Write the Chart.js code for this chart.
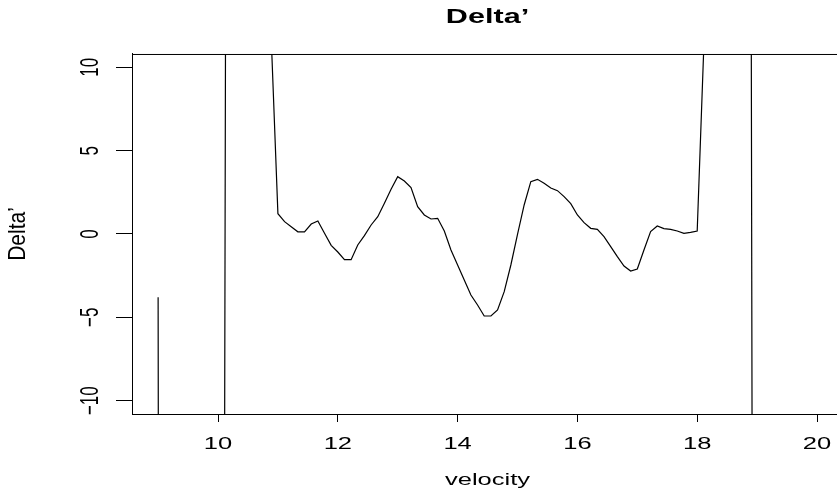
<!DOCTYPE html>
<html lang="en">
<head>
    <meta charset="UTF-8">
    <title>Delta'</title>
    <script src="https://cdn.jsdelivr.net/npm/chart.js"></script>
    <style>
        body {
            margin: 0;
            background-color: #ffffff;
            overflow: hidden;
        }
        canvas {
            display: block;
        }
    </style>
</head>
<body>
    <canvas id="deltaChart" width="975" height="495"></canvas>

    <script>
        // velocity grid (100 points, 9 .. 20)
        const velocity = [
            9.000, 9.111, 9.222, 9.333, 9.444, 9.556, 9.667, 9.778, 9.889,
            10.000, 10.111, 10.222, 10.333, 10.444, 10.556, 10.667, 10.778, 10.889,
            11.000, 11.111, 11.222, 11.333, 11.444, 11.556, 11.667, 11.778, 11.889,
            12.000, 12.111, 12.222, 12.333, 12.444, 12.556, 12.667, 12.778, 12.889,
            13.000, 13.111, 13.222, 13.333, 13.444, 13.556, 13.667, 13.778, 13.889,
            14.000, 14.111, 14.222, 14.333, 14.444, 14.556, 14.667, 14.778, 14.889,
            15.000, 15.111, 15.222, 15.333, 15.444, 15.556, 15.667, 15.778, 15.889,
            16.000, 16.111, 16.222, 16.333, 16.444, 16.556, 16.667, 16.778, 16.889,
            17.000, 17.111, 17.222, 17.333, 17.444, 17.556, 17.667, 17.778, 17.889,
            18.000, 18.111, 18.222, 18.333, 18.444, 18.556, 18.667, 18.778, 18.889,
            19.000, 19.111, 19.222, 19.333, 19.444, 19.556, 19.667, 19.778, 19.889,
            20.000
        ];

        // Delta' values (off-scale ones are only estimates, they get clipped)
        const deltaPrime = [
            -3.8, -260, -150, -105, -80, -62, -48, -36, -26,
            -18, -11.2, 170, 95, 60, 38, 25, 17, 11.7,
            1.22, 0.74, 0.44, 0.13, 0.13, 0.6, 0.78, 0.04, -0.68,
            -1.08, -1.54, -1.54, -0.66, -0.1, 0.54, 1.04, 1.84, 2.68,
            3.44, 3.18, 2.78, 1.64, 1.14, 0.9, 0.94, 0.18, -0.96,
            -1.86, -2.76, -3.66, -4.26, -4.92, -4.92, -4.56, -3.46, -1.86,
            -0.02, 1.74, 3.14, 3.28, 3.04, 2.76, 2.6, 2.24, 1.82,
            1.14, 0.68, 0.34, 0.28, -0.16, -0.76, -1.36, -1.92, -2.22,
            -2.1, -0.96, 0.14, 0.48, 0.32, 0.28, 0.18, 0.04, 0.1,
            0.18, 11.3, 14, 17, 20, 24, 28, 32, 36,
            -160, -110, -80, -62, -50, -42, -36, -31, -27,
            -24
        ];

        const xTicks = [10, 12, 14, 16, 18, 20];
        const yTicks = [-10, -5, 0, 5, 10];
        const yTickLabels = ['\u221210', '\u22125', '0', '5', '10'];

        const xRange = [8.564, 20.434];
        const yRange = [-10.8, 10.8];

        const SX = 1.5;       // the reference text is stretched sideways
        const SX_YLAB = 1.15; // ...the y title less so
        const FONT = 'Liberation Sans, Arial, sans-serif';

        const canvas = document.getElementById('deltaChart');
        const ctx = canvas.getContext('2d');

        // widen every label in screen x, around its anchor point
        const origFillText = CanvasRenderingContext2D.prototype.fillText;
        ctx.fillText = function (text, x, y, maxWidth) {
            const sx = this.font.indexOf('21px') >= 0 ? SX_YLAB : SX;
            const m = this.getTransform();
            const p = m.transformPoint(new DOMPoint(x, y));
            this.save();
            this.setTransform(new DOMMatrix().translate(p.x, p.y).scale(sx, 1).translate(-p.x, -p.y).multiply(m));
            origFillText.call(this, text, x, y);
            this.restore();
        };

        // closes the plot box (top side)
        const boxPlugin = {
            id: 'box',
            afterDraw(chart) {
                const a = chart.chartArea;
                const c = chart.ctx;
                c.save();
                c.strokeStyle = '#000';
                c.lineWidth = 1;
                c.strokeRect(a.left + 0.5, a.top + 0.5, a.right - a.left, a.bottom - a.top);
                c.restore();
            }
        };

        new Chart(ctx, {
            type: 'line',
            data: {
                datasets: [{
                    label: 'Delta\u2019',
                    data: velocity.map((v, i) => ({ x: v, y: deltaPrime[i] })),
                    borderColor: '#000',
                    borderWidth: 1.2,
                    pointRadius: 0,
                    fill: false,
                    tension: 0
                }]
            },
            options: {
                responsive: false,
                animation: false,
                layout: { padding: { left: 0, right: 132, top: 0, bottom: 0 } },
                plugins: {
                    legend: { display: false },
                    tooltip: { enabled: false },
                    title: {
                        display: true,
                        fullSize: false,
                        text: 'Delta\u2019',
                        color: '#000',
                        font: { family: FONT, size: 20.4, weight: 'bold' },
                        padding: { top: 5, bottom: 24.5 }
                    }
                },
                scales: {
                    x: {
                        type: 'linear',
                        min: xRange[0],
                        max: xRange[1],
                        afterFit(scale) { scale.height = 81; },
                        afterBuildTicks(scale) { scale.ticks = xTicks.map(v => ({ value: v })); },
                        border: { display: true, color: '#000', width: 1 },
                        grid: { drawOnChartArea: false, drawTicks: true, tickLength: 8, color: '#000' },
                        ticks: {
                            color: '#000',
                            font: { family: FONT, size: 17 },
                            padding: 12,
                            maxRotation: 0,
                            autoSkip: false,
                            callback: v => String(v)
                        },
                        title: {
                            display: true,
                            text: 'velocity',
                            color: '#000',
                            font: { family: FONT, size: 17 },
                            padding: { top: 0, bottom: 4 }
                        }
                    },
                    y: {
                        type: 'linear',
                        min: yRange[0],
                        max: yRange[1],
                        afterFit(scale) { scale.width = 132; },
                        afterBuildTicks(scale) { scale.ticks = yTicks.map(v => ({ value: v })); },
                        border: { display: true, color: '#000', width: 1 },
                        grid: { drawOnChartArea: false, drawTicks: true, tickLength: 16, color: '#000' },
                        ticks: {
                            color: '#000',
                            font: { family: FONT, size: 17 },
                            padding: 11,
                            minRotation: 90,
                            maxRotation: 90,
                            crossAlign: 'center',
                            callback: v => yTickLabels[yTicks.indexOf(v)]
                        },
                        title: {
                            display: true,
                            text: 'Delta\u2019',
                            color: '#000',
                            font: { family: FONT, size: 21 },
                            padding: { top: 6, bottom: 0 }
                        }
                    }
                }
            },
            plugins: [boxPlugin]
        });
    </script>
</body>
</html>
